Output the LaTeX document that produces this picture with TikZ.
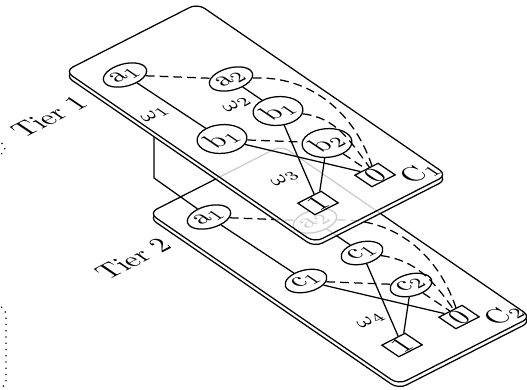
\documentclass[tikz,border=0pt]{standalone}
\usepackage{tikz}
\usetikzlibrary{calc, shapes.geometric}

% one tier plate: top face plus a thin rim below it
\newcommand{\drawslab}[1]{%
  \coordinate (L) at (65,71);      \coordinate (T) at (197.5,3.5);
  \coordinate (R) at (447,175);    \coordinate (B) at (314.5,242.5);
  \coordinate (Ld) at (65,75.5);   \coordinate (Td) at (197.5,8);
  \coordinate (Rd) at (447,179.5); \coordinate (Bd) at (314.5,247);
  \fill[white, fill opacity=#1, slabcorner]
    (L) -- (T) -- (R) -- (B) -- cycle (Ld) -- (Td) -- (Rd) -- (Bd) -- cycle;
  \begin{scope}[even odd rule, slabcorner]
    \clip (-20,-20) rectangle (560,420) (L) -- (T) -- (R) -- (B) -- cycle;
    \draw (Ld) -- (Td) -- (Rd) -- (Bd) -- cycle;
  \end{scope}
  \draw[slabcorner] (L) -- (T) -- (R) -- (B) -- cycle;
}
% a node lying flat in the plate
\newcommand{\pnode}[4][]{%
  \begin{scope}[shift={#3}, plane]
    \node[transform shape, #1] (#2) {#4};
  \end{scope}}

\begin{document}
\begin{tikzpicture}[x=0.4pt, y=-0.4pt, line width=0.5pt,
    plane/.style={yslant=0.5107, xslant=-0.8438, xscale=0.979, yscale=1.0808},
    var/.style={ellipse, draw, fill=white, inner sep=0.6pt},
    val/.style={rectangle, draw, fill=white, inner sep=0pt,
                minimum width=9.5pt, minimum height=7.5pt},
    wgt/.style={font=\footnotesize},
    dsh/.style={dash pattern=on 3.5pt off 2pt},
    slabcorner/.style={rounded corners=3.5pt}]
  \useasboundingbox (0,0) rectangle (527,389);

  % cut-off dotted marks on the left edge
  \draw[dotted] (1.5,143) .. controls (6,146) and (6,151) .. (1.5,154);
  \draw[dotted, rounded corners=2pt] (1,307) -- (6,309) -- (6,386) -- (1,388);

  % tier 2
  \begin{scope}[shift={(84,142)}]
    \drawslab{1}
    \pnode[var]{t2a1}{(125,75)}{$\mathrm{a}_1$}
    \pnode[var]{t2a2}{(231,79)}{$\mathrm{a}_2$}
    \pnode[var]{t2c1u}{(278,111)}{$\mathrm{c}_1$}
    \pnode[var]{t2c1l}{(222,139)}{$\mathrm{c}_1$}
    \pnode[var]{t2c2}{(327,143)}{$\mathrm{c}_2$}
    \pnode[val]{t2zero}{(375,175)}{$0$}
    \pnode[val]{t2one}{(318,203)}{$1$}
    \pnode{t2name}{(420,173)}{$\mathrm{C}_2$}
    \pnode[wgt]{t2w4}{(287,179)}{$\omega_4$}
  \end{scope}
  \draw[dsh] (t2a1) -- (t2a2);
  \draw (t2a1) -- (t2c1l);
  \draw (t2a2) -- (t2c1u);
  \draw[dsh] (t2a2) to[out=-5, in=100] (t2zero);
  \draw[dsh] (t2c1u) to[out=-20, in=112] (t2zero);
  \draw (t2c1u) -- (t2one);
  \draw[dsh] (t2c1l) -- (t2c2);
  \draw (t2c1l) -- (t2zero);
  \draw (t2c2) -- (t2one);
  \draw[dsh] (t2c2) -- (t2zero);

  % link between the tiers
  \coordinate (pil) at (154,137);
  \draw (pil) -- ++(0,41) -- (t2a1);

  % tier 1
  \begin{scope}
    \drawslab{.8}
    \pnode[var]{t1a1}{(125,75)}{$\mathrm{a}_1$}
    \pnode[var]{t1a2}{(231,79)}{$\mathrm{a}_2$}
    \pnode[var]{t1b1u}{(278,111)}{$\mathrm{b}_1$}
    \pnode[var]{t1b1l}{(222,139)}{$\mathrm{b}_1$}
    \pnode[var]{t1b2}{(327,143)}{$\mathrm{b}_2$}
    \pnode[val]{t1zero}{(375,175)}{$0$}
    \pnode[val]{t1one}{(318,203)}{$1$}
    \pnode{t1name}{(420,173)}{$\mathrm{C}_1$}
    \pnode[wgt]{t1w1}{(155,115)}{$\omega_1$}
    \pnode[wgt]{t1w2}{(237,105)}{$\omega_2$}
    \pnode[wgt]{t1w3}{(285,179)}{$\omega_3$}
  \end{scope}
  \draw[dsh] (t1a1) -- (t1a2);
  \draw (t1a1) -- (t1b1l);
  \draw (t1a2) -- (t1b1u);
  \draw[dsh] (t1a2) to[out=-5, in=100] (t1zero);
  \draw[dsh] (t1b1u) to[out=-20, in=112] (t1zero);
  \draw (t1b1u) -- (t1one);
  \draw[dsh] (t1b1l) -- (t1b2);
  \draw (t1b1l) -- (t1zero);
  \draw (t1b2) -- (t1one);
  \draw[dsh] (t1b2) -- (t1zero);

  % tier names
  \pnode{tier1}{(49,117)}{Tier 1}
  \pnode{tier2}{(133,259)}{Tier 2}
\end{tikzpicture}
\end{document}
